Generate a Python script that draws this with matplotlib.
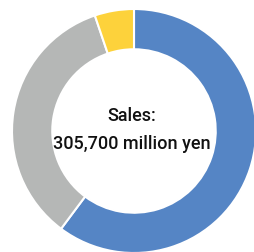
import matplotlib.pyplot as plt

shares = [60.2, 34.6, 5.2]
colors = ["#5585C5", "#B5B7B6", "#FDD23B"]
title_lines = ["Sales:", "305,700 million yen"]

fig = plt.figure(figsize=(2.55, 2.53), dpi=100)
ax = fig.add_axes([0, 0, 1, 1])

ax.pie(shares, colors=colors, startangle=90, counterclock=False,
       radius=1.0, wedgeprops=dict(width=0.33, edgecolor="white", linewidth=1.5))

# center at (134, 132) px with outer radius 122 px
r = 122.0
ax.set_xlim(-134 / r, (255 - 134) / r)
ax.set_ylim(-(253 - 132) / r, 132 / r)
ax.set_aspect("auto")
ax.axis("off")

fam = ["Roboto", "DejaVu Sans"]
ax.text(-0.02, 16 / r, title_lines[0], ha="center", va="center", fontsize=13,
        family=fam, weight="medium", color="#111111")
ax.text(-0.02, -12 / r, title_lines[1], ha="center", va="center", fontsize=13,
        family=fam, weight="medium", color="#111111")

fig.savefig("out.png", dpi=100)
